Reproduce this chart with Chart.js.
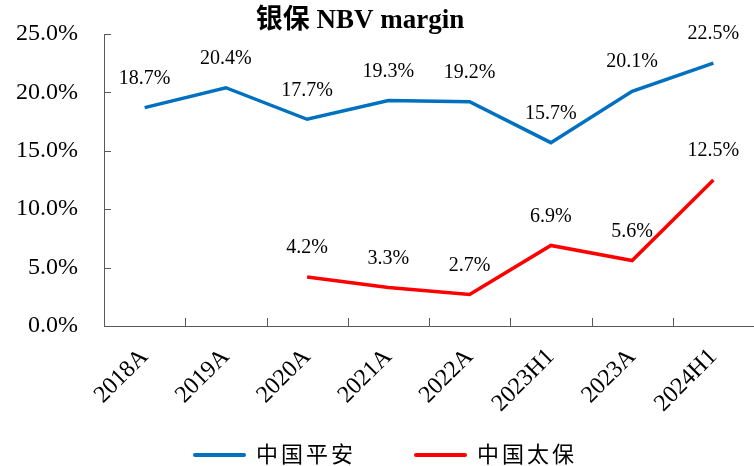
<!DOCTYPE html>
<html>
<head>
<meta charset="utf-8">
<script src="https://cdn.jsdelivr.net/npm/chart.js@4.4.1/dist/chart.umd.min.js"></script>
<style>
  html, body { margin: 0; padding: 0; background: #fff; }
  #wrap { width: 754px; height: 466px; }
</style>
</head>
<body>
<div id="wrap"><canvas id="nbvChart"></canvas></div>
<script>
const categories = ['2018A', '2019A', '2020A', '2021A', '2022A', '2023H1', '2023A', '2024H1'];
const pinganValues = [18.7, 20.4, 17.7, 19.3, 19.2, 15.7, 20.1, 22.5];
const cpicValues = [null, null, 4.2, 3.3, 2.7, 6.9, 5.6, 12.5];
const yTicks = [0, 5, 10, 15, 20, 25];
const chartTitle = '银保 NBV margin';

const serif = "'Liberation Serif', 'Times New Roman', 'Noto Sans CJK SC', serif";
const axisColor = '#595959';

// title drawn by hand so it can sit a bit left of centre like the original
const titlePlugin = {
  id: 'titlePlugin',
  afterDraw(chart) {
    const ctx = chart.ctx;
    ctx.save();
    ctx.font = 'bold 27px ' + serif;
    ctx.fillStyle = '#000';
    ctx.textAlign = 'center';
    ctx.textBaseline = 'middle';
    ctx.fillText(chartTitle, 360, 21);
    ctx.restore();
  }
};

// value labels above each point
const valueLabels = {
  id: 'valueLabels',
  afterDatasetsDraw(chart) {
    const ctx = chart.ctx;
    ctx.save();
    ctx.font = '20px ' + serif;
    ctx.fillStyle = '#000';
    ctx.textAlign = 'center';
    ctx.textBaseline = 'middle';
    chart.data.datasets.forEach((ds, i) => {
      chart.getDatasetMeta(i).data.forEach((pt, j) => {
        const v = ds.data[j];
        if (v === null) return;
        ctx.fillText(v.toFixed(1) + '%', pt.x, pt.y - 29);
      });
    });
    ctx.restore();
  }
};

// tick marks pointing into the plot
const innerTicks = {
  id: 'innerTicks',
  afterDraw(chart) {
    const { ctx, scales: { x, y } } = chart;
    ctx.save();
    ctx.strokeStyle = axisColor;
    ctx.lineWidth = 1;
    ctx.beginPath();
    y.ticks.forEach(t => {
      const py = Math.round(y.getPixelForValue(t.value)) + 0.5;
      ctx.moveTo(x.left, py);
      ctx.lineTo(x.left + 7, py);
    });
    const step = (x.right - x.left) / categories.length;
    for (let i = 1; i <= categories.length; i++) {
      const px = Math.round(x.left + i * step) + 0.5;
      ctx.moveTo(px, y.bottom);
      ctx.lineTo(px, y.bottom - 8);
    }
    ctx.stroke();
    ctx.restore();
  }
};

// legend along the bottom, spaced like the source
const bottomLegend = {
  id: 'bottomLegend',
  afterDraw(chart) {
    const ctx = chart.ctx;
    const starts = [193, 414];
    const ly = 455;
    ctx.save();
    ctx.font = "22px 'Noto Sans CJK SC', sans-serif";
    ctx.letterSpacing = '3px';
    ctx.textBaseline = 'middle';
    ctx.lineCap = 'round';
    chart.data.datasets.forEach((ds, i) => {
      const x0 = starts[i];
      ctx.strokeStyle = ds.borderColor;
      ctx.lineWidth = 4;
      ctx.beginPath();
      ctx.moveTo(x0 + 2, ly);
      ctx.lineTo(x0 + 51, ly);
      ctx.stroke();
      ctx.fillStyle = '#000';
      ctx.fillText(ds.label, x0 + 63, ly - 1);
    });
    ctx.restore();
  }
};

const ctx = document.getElementById('nbvChart').getContext('2d');
new Chart(ctx, {
  type: 'line',
  data: {
    labels: categories,
    datasets: [
      {
        label: '中国平安',
        data: pinganValues,
        borderColor: '#0070C0',
        backgroundColor: '#0070C0',
        borderWidth: 3.5,
        pointRadius: 0,
        tension: 0
      },
      {
        label: '中国太保',
        data: cpicValues,
        borderColor: '#FF0000',
        backgroundColor: '#FF0000',
        borderWidth: 3.5,
        pointRadius: 0,
        tension: 0
      }
    ]
  },
  options: {
    responsive: true,
    maintainAspectRatio: false,
    animation: false,
    layout: { padding: { top: 34, right: 0, left: 0, bottom: 0 } },
    plugins: {
      title: { display: false },
      tooltip: { enabled: false },
      legend: { display: false }
    },
    scales: {
      x: {
        offset: true,
        afterFit: axis => {
          axis.height = 140;
          axis.paddingLeft = 0;
          axis.paddingRight = 0;
        },
        grid: { display: false, drawTicks: false, tickLength: 0 },
        border: { display: true, color: axisColor, width: 1 },
        ticks: {
          font: { family: serif, size: 24 },
          color: '#000',
          minRotation: 45,
          maxRotation: 45,
          padding: 17
        }
      },
      y: {
        min: 0,
        max: 25,
        afterBuildTicks: axis => { axis.ticks = yTicks.map(v => ({ value: v })); },
        afterFit: axis => {
          axis.width = 104;
          axis.paddingTop = 0;
          axis.paddingBottom = 0;
        },
        grid: { display: false, drawTicks: false, tickLength: 0 },
        border: { display: true, color: axisColor, width: 1 },
        ticks: {
          font: { family: serif, size: 24 },
          color: '#000',
          padding: 26,
          callback: v => v.toFixed(1) + '%'
        }
      }
    }
  },
  plugins: [titlePlugin, valueLabels, innerTicks, bottomLegend]
});
</script>
</body>
</html>
